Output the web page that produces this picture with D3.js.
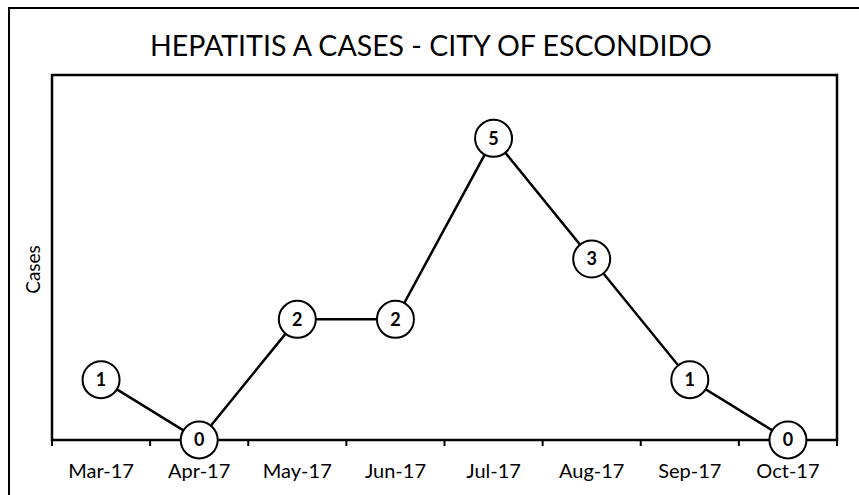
<!DOCTYPE html>
<html>
<head>
<meta charset="utf-8">
<script src="https://cdn.jsdelivr.net/npm/d3@7"></script>
<style>
  html, body { margin: 0; padding: 0; background: #fff; }
  svg { display: block; }
</style>
</head>
<body>
<svg id="chart" width="859" height="495"></svg>
<script>
const title = "HEPATITIS A CASES - CITY OF ESCONDIDO";
const yLabel = "Cases";
const months = ["Mar-17", "Apr-17", "May-17", "Jun-17", "Jul-17", "Aug-17", "Sep-17", "Oct-17"];
const cases = [1, 0, 2, 2, 5, 3, 1, 0];
const yDomain = [0, 6.05];

const svg = d3.select("#chart");
const W = 859, H = 495;
const m = { left: 52, right: 22, top: 75, bottom: 55 };
const font = "Lato, 'Open Sans', sans-serif";

// outer chart border
svg.append("rect")
  .attr("x", 9).attr("y", 8).attr("width", W + 20).attr("height", H + 20)
  .attr("fill", "#fff").attr("stroke", "#000").attr("stroke-width", 2);

const x = d3.scaleBand().domain(months).range([m.left, W - m.right]).paddingInner(0).paddingOuter(0);
const y = d3.scaleLinear().domain(yDomain).range([H - m.bottom, m.top]);

// plot area border
svg.append("rect")
  .attr("x", m.left).attr("y", m.top)
  .attr("width", W - m.right - m.left).attr("height", H - m.bottom - m.top)
  .attr("fill", "none").attr("stroke", "#000").attr("stroke-width", 2.5);

// x axis with ticks at band boundaries
const xAxisG = svg.append("g").attr("transform", `translate(0,${y(0)})`);
xAxisG.append("line")
  .attr("x1", m.left).attr("x2", W - m.right)
  .attr("stroke", "#000").attr("stroke-width", 2);
const boundaries = months.map(d => x(d)).concat([x(months[months.length - 1]) + x.bandwidth()]);
xAxisG.selectAll("line.tick").data(boundaries).enter().append("line")
  .attr("class", "tick")
  .attr("x1", d => d).attr("x2", d => d)
  .attr("y1", 0).attr("y2", 6)
  .attr("stroke", "#000").attr("stroke-width", 2);
xAxisG.selectAll("text").data(months).enter().append("text")
  .attr("x", d => x(d) + x.bandwidth() / 2)
  .attr("y", 38)
  .attr("text-anchor", "middle")
  .attr("font-family", font).attr("font-size", 20).attr("fill", "#000")
  .text(d => d);

// title
svg.append("text")
  .attr("x", 431).attr("y", 56)
  .attr("text-anchor", "middle")
  .attr("font-family", font).attr("font-size", 28.5).attr("fill", "#000")
  .text(title);

// y label
svg.append("text")
  .attr("transform", `translate(40,${(m.top + H - m.bottom) / 2 + 12}) rotate(-90)`)
  .attr("text-anchor", "middle")
  .attr("font-family", font).attr("font-size", 19).attr("fill", "#000")
  .text(yLabel);

// line
const line = d3.line()
  .x((d, i) => x(months[i]) + x.bandwidth() / 2)
  .y(d => y(d));
svg.append("path")
  .datum(cases)
  .attr("d", line)
  .attr("fill", "none").attr("stroke", "#000").attr("stroke-width", 2.5);

// markers
const pts = svg.append("g").selectAll("g").data(cases).enter().append("g")
  .attr("transform", (d, i) => `translate(${x(months[i]) + x.bandwidth() / 2},${y(d)})`);
pts.append("circle")
  .attr("r", 18.5)
  .attr("fill", "#fff").attr("stroke", "#000").attr("stroke-width", 2);
pts.append("text")
  .attr("text-anchor", "middle").attr("dy", "0.36em")
  .attr("font-family", font).attr("font-size", 18).attr("font-weight", "bold").attr("fill", "#000")
  .text(d => d);
</script>
</body>
</html>
